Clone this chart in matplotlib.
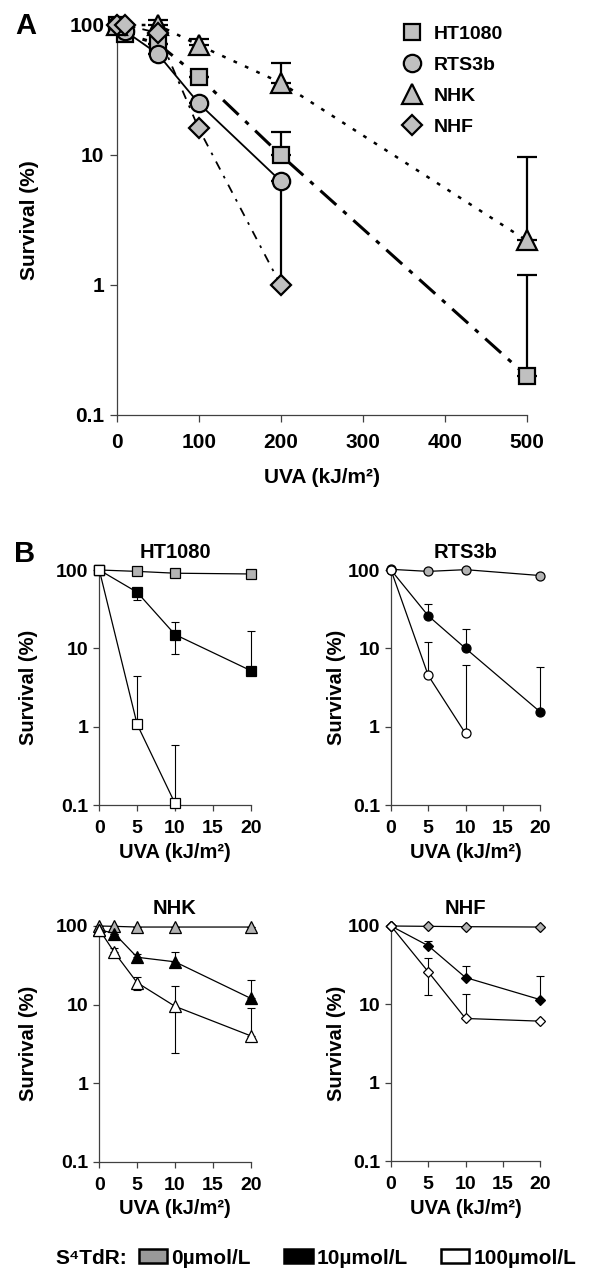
import numpy as np
import matplotlib
matplotlib.use('Agg')
import matplotlib.pyplot as plt
from matplotlib.lines import Line2D
from matplotlib.patches import Patch

plt.rcParams['font.family'] = ['Liberation Sans', 'DejaVu Sans']
plt.rcParams['font.weight'] = 'bold'
plt.rcParams['axes.labelweight'] = 'bold'
plt.rcParams['axes.titleweight'] = 'bold'

# ---- panel A data (UVA kJ/m2 vs survival %) ----
a_names = ['HT1080', 'RTS3b', 'NHK', 'NHF']
a_x = {
    'HT1080': [0, 10, 50, 100, 200, 500],
    'RTS3b': [0, 10, 50, 100, 200],
    'NHK': [0, 50, 100, 200, 500],
    'NHF': [0, 10, 50, 100, 200],
}
a_y = {
    'HT1080': [100, 85, 72, 40, 10, 0.2],
    'RTS3b': [100, 90, 60, 25, 6.3],
    'NHK': [100, 100, 70, 36, 2.2],
    'NHF': [100, 100, 87, 16, 1.0],
}
# error bar ends (low, high); equal to value where no bar is drawn
a_lo = {
    'HT1080': [100, 85, 72, 40, 10, 0.2],
    'RTS3b': [100, 90, 60, 25, 1.0],
    'NHK': [100, 100, 70, 36, 2.2],
    'NHF': [100, 100, 87, 16, 1.0],
}
a_hi = {
    'HT1080': [100, 85, 72, 40, 15, 1.2],
    'RTS3b': [100, 90, 60, 25, 6.3],
    'NHK': [100, 110, 78, 51, 9.6],
    'NHF': [100, 100, 87, 16, 1.0],
}

# ---- panel B data ----
b_cells = ['HT1080', 'RTS3b', 'NHK', 'NHF']
b_doses = ['0µmol/L', '10µmol/L', '100µmol/L']
b_x = {
    'HT1080': [[0, 5, 10, 20], [0, 5, 10, 20], [0, 5, 10]],
    'RTS3b': [[0, 5, 10, 20], [0, 5, 10, 20], [0, 5, 10]],
    'NHK': [[0, 2, 5, 10, 20], [0, 2, 5, 10, 20], [0, 2, 5, 10, 20]],
    'NHF': [[0, 5, 10, 20], [0, 5, 10, 20], [0, 5, 10, 20]],
}
b_y = {
    'HT1080': [[100, 96, 91, 89], [100, 52, 15, 5.2], [100, 1.07, 0.105]],
    'RTS3b': [[102, 96, 101, 85], [100, 26, 10, 1.55], [100, 4.5, 0.82]],
    'NHK': [[100, 99, 97, 97, 97], [90, 80, 40, 35, 12], [90, 46, 19, 9.5, 4.0]],
    'NHF': [[100, 99, 98, 97], [100, 56, 22, 11.5], [100, 26, 6.6, 6.1]],
}
b_lo = {
    'HT1080': [[100, 96, 91, 89], [100, 41, 8.5, 5.2], [100, 1.07, 0.105]],
    'RTS3b': [[102, 96, 101, 85], [100, 26, 10, 1.55], [100, 4.5, 0.82]],
    'NHK': [[100, 99, 97, 97, 97], [90, 80, 40, 35, 12], [90, 46, 15.5, 2.4, 4.0]],
    'NHF': [[100, 99, 98, 97], [100, 56, 22, 11.5], [100, 13, 6.6, 6.1]],
}
b_hi = {
    'HT1080': [[100, 96, 91, 89], [100, 52, 21.5, 16.5], [100, 4.4, 0.59]],
    'RTS3b': [[102, 96, 101, 85], [100, 37, 17.5, 5.8], [100, 12, 6.2]],
    'NHK': [[100, 99, 97, 97, 97], [90, 80, 44, 46, 20.5], [90, 53, 22.5, 17, 9.0]],
    'NHF': [[100, 99, 98, 97], [100, 64, 31, 23], [100, 39, 13.4, 6.1]],
}
b_markers = {'HT1080': 's', 'RTS3b': 'o', 'NHK': '^', 'NHF': 'D'}
b_msize = {'HT1080': 7.5, 'RTS3b': 6.5, 'NHK': 8.5, 'NHF': 5.5}
b_fill = ['#b3b3b3', 'black', 'white']

W, H = 589, 1281
fig = plt.figure(figsize=(W / 100, H / 100), dpi=100)


def add_ax(l, r, t, b):
    return fig.add_axes([l / W, 1 - b / H, (r - l) / W, (b - t) / H])


def style_log(ax, fs):
    ax.set_yscale('log')
    ax.set_ylim(0.1, 100)
    ax.set_yticks([0.1, 1, 10, 100])
    ax.set_yticklabels(['0.1', '1', '10', '100'])
    ax.minorticks_off()
    for s in ['top', 'right']:
        ax.spines[s].set_visible(False)
    for s in ['left', 'bottom']:
        ax.spines[s].set_color('#404040')
        ax.spines[s].set_linewidth(0.9)
    ax.tick_params(labelsize=fs, color='#404040', width=0.9)
    for lab in ax.get_xticklabels() + ax.get_yticklabels():
        lab.set_fontweight('bold')


# ---------------- Panel A ----------------
axA = add_ax(116.7, 526.7, 25, 415)
a_style = {
    'HT1080': dict(marker='s', ms=12, ls=(0, (7, 3, 1.5, 3)), lw=2.2),
    'RTS3b': dict(marker='o', ms=12.5, ls='-', lw=1.3),
    'NHK': dict(marker='^', ms=14, ls=(0, (1.5, 3.5)), lw=1.8),
    'NHF': dict(marker='D', ms=10, ls=(0, (5, 4, 1.5, 4)), lw=1.3),
}
handles = []
for name in a_names:
    x = np.array(a_x[name])
    y = np.array(a_y[name])
    lo = np.array(a_lo[name])
    hi = np.array(a_hi[name])
    st = a_style[name]
    axA.errorbar(x, y, yerr=[y - lo, hi - y], fmt='none', ecolor='black',
                 elinewidth=1.6, capsize=7, capthick=1.6, zorder=2, clip_on=False)
    axA.plot(x, y, color='black', ls=st['ls'], lw=st['lw'], zorder=3, clip_on=False)
    axA.plot(x, y, ls='none', marker=st['marker'], ms=st['ms'], mfc='#c0c0c0',
             mec='black', mew=1.6, zorder=4, clip_on=False)
    handles.append(Line2D([], [], ls='none', marker=st['marker'], ms=st['ms'],
                          mfc='#c0c0c0', mec='black', mew=1.6, label=name))
axA.set_xlim(0, 500)
axA.set_xticks([0, 100, 200, 300, 400, 500])
style_log(axA, 15)
axA.tick_params(axis='x', length=5, pad=8)
axA.tick_params(axis='y', length=5, pad=4)
axA.set_xlabel('UVA (kJ/m²)', fontsize=15)
axA.set_ylabel('Survival (%)', fontsize=15)
axA.xaxis.set_label_coords(0.5, -0.135)
axA.yaxis.set_label_coords(-0.19, 0.5)
axA.legend(handles=handles, loc='upper left', bbox_to_anchor=(0.655, 1.045),
           frameon=False, handlelength=1.0, handletextpad=0.6,
           labelspacing=0.7, prop=dict(size=14, weight='bold'))
fig.text(26 / W, 1 - 26 / H, 'A', fontsize=21, fontweight='bold', ha='center', va='center')

# ---------------- Panel B ----------------
b_boxes = {
    'HT1080': (99.3, 250.7, 570, 805),
    'RTS3b': (391, 540, 570, 805),
    'NHK': (99.3, 250.7, 926, 1161.7),
    'NHF': (391, 540, 926, 1161),
}
b_ylab_x = {'HT1080': -0.405, 'RTS3b': -0.305, 'NHK': -0.405, 'NHF': -0.300}
for cell in b_cells:
    ax = add_ax(*b_boxes[cell])
    for k in range(3):
        x = np.array(b_x[cell][k])
        y = np.array(b_y[cell][k], dtype=float)
        lo = np.array(b_lo[cell][k], dtype=float)
        hi = np.array(b_hi[cell][k], dtype=float)
        ax.errorbar(x, y, yerr=[y - lo, hi - y], fmt='none', ecolor='black',
                    elinewidth=0.8, capsize=3, capthick=0.8, zorder=2, clip_on=False)
        ax.plot(x, y, color='black', lw=0.9, marker=b_markers[cell], ms=b_msize[cell],
                mfc=b_fill[k], mec='black', mew=0.9, zorder=3 + k, clip_on=False)
    ax.set_xlim(0, 20)
    ax.set_xticks([0, 5, 10, 15, 20])
    style_log(ax, 14)
    ax.tick_params(axis='x', length=4, pad=7)
    ax.tick_params(axis='y', length=4, pad=4)
    ax.set_title(cell, fontsize=14.5, pad=9)
    ax.set_xlabel('UVA (kJ/m²)', fontsize=14.5)
    ax.set_ylabel('Survival (%)', fontsize=14.5)
    ax.xaxis.set_label_coords(0.5, -0.16)
    ax.yaxis.set_label_coords(b_ylab_x[cell], 0.5)

fig.text(25 / W, 1 - 554 / H, 'B', fontsize=21, fontweight='bold', ha='center', va='center')

# bottom legend
patches = [Patch(facecolor=c, edgecolor='black', linewidth=1.8, label=lab)
           for c, lab in zip(['#999999', 'black', 'white'], b_doses)]
fig.text(55 / W, 1 - 1258 / H, 'S⁴TdR:', fontsize=15, fontweight='bold',
         ha='left', va='center')
fig.legend(handles=patches, loc='center left', bbox_to_anchor=(131 / W, 1 - 1258 / H),
           ncol=3, frameon=False, handlelength=1.35, handleheight=0.65,
           handletextpad=0.2, columnspacing=1.6, borderaxespad=0,
           prop=dict(size=15, weight='bold'))

fig.savefig('out.png', dpi=100)
